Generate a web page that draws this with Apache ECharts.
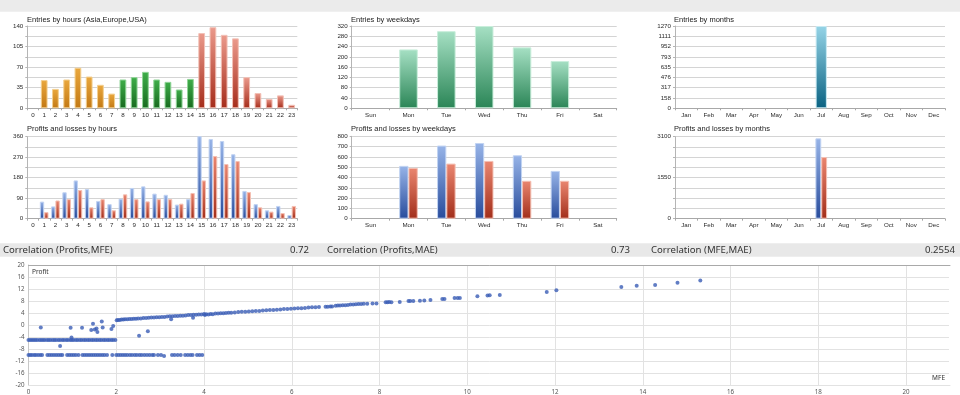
<!DOCTYPE html>
<html><head><meta charset="utf-8">
<script src="https://cdn.jsdelivr.net/npm/echarts@6/dist/echarts.min.js"></script>
<style>html,body{margin:0;padding:0;background:#fff;}#c{width:960px;height:395px;}</style>
</head><body><div id="c"></div>
<script>
// ---------------- DATA ----------------
const hours = ['0','1','2','3','4','5','6','7','8','9','10','11','12','13','14','15','16','17','18','19','20','21','22','23'];
const hourEntries = [0,48,33,49,69,54,40,25,49,53,62,49,45,32,50,128,138,125,119,53,26,16,22,6];
const hourProfits = [0,75,54,116,168,130,78,64,88,135,142,110,105,62,86,363,350,341,283,122,64,37,56,16];
const hourLosses  = [0,29,80,86,126,50,86,37,107,86,76,86,86,66,113,168,275,240,253,117,50,31,25,56];

const weekdays = ['Sun','Mon','Tue','Wed','Thu','Fri','Sat'];
const weekdayEntries = [0,229,300,320,237,184,0];
const weekdayProfits = [0,513,710,735,616,464,0];
const weekdayLosses  = [0,493,535,561,368,368,0];

const months = ['Jan','Feb','Mar','Apr','May','Jun','Jul','Aug','Sep','Oct','Nov','Dec'];
const monthEntries = [0,0,0,0,0,0,1270,0,0,0,0,0];
const monthProfits = [0,0,0,0,0,0,3038,0,0,0,0,0];
const monthLosses  = [0,0,0,0,0,0,2330,0,0,0,0,0];

const chartTitles = ['Entries by hours (Asia,Europe,USA)','Profits and losses by hours',
  'Entries by weekdays','Profits and losses by weekdays','Entries by months','Profits and losses by months'];
const correlationNames = ['Correlation (Profits,MFE)','Correlation (Profits,MAE)','Correlation (MFE,MAE)'];
const correlationValues = ['0.72','0.73','0.2554'];

// scatter: [MFE, Profit]
const stopRowA = [[0.00,-5],[0.04,-5],[0.08,-5],[0.12,-5],[0.16,-5],[0.20,-5],[0.25,-5],[0.29,-5],[0.33,-5],[0.37,-5],
  [0.42,-5],[0.46,-5],[0.50,-5],[0.55,-5],[0.59,-5],[0.63,-5],[0.68,-5],[0.72,-5],[0.77,-5],[0.81,-5],[0.86,-5],[0.90,-5],
  [0.95,-5],[0.99,-5],[1.03,-5],[1.08,-5],[1.12,-5],[1.17,-5],[1.21,-5],[1.26,-5],[1.30,-5],[1.35,-5],[1.39,-5],[1.44,-5],
  [1.48,-5],[1.53,-5],[1.57,-5],[1.62,-5],[1.66,-5],[1.71,-5],[1.75,-5],[1.80,-5],[1.84,-5],[1.89,-5],[1.93,-5],[1.98,-5]];
const stopRowB = [[0.00,-10],[0.04,-10],[0.08,-10],[0.13,-10],[0.17,-10],[0.22,-10],[0.27,-10],[0.31,-10],
  [0.43,-10],[0.48,-10],[0.53,-10],[0.58,-10],[0.63,-10],[0.68,-10],[0.73,-10],[0.77,-10],
  [0.88,-10],[0.93,-10],[0.98,-10],[1.03,-10],[1.08,-10],[1.14,-10],
  [1.23,-10],[1.28,-10],[1.33,-10],[1.38,-10],[1.43,-10],[1.48,-10],[1.53,-10],[1.58,-10],[1.63,-10],[1.68,-10],[1.73,-10],[1.79,-10],
  [1.91,-10],[2.00,-10],[2.05,-10],[2.10,-10],[2.15,-10],[2.20,-10],[2.25,-10],[2.31,-10],[2.36,-10],[2.42,-10],[2.47,-10],
  [2.53,-10],[2.58,-10],[2.64,-10],[2.70,-10],[2.76,-10],[2.82,-10],[2.86,-10],[2.95,-10],[3.02,-10],[3.09,-10.3],
  [3.27,-10],[3.33,-10],[3.40,-10],[3.47,-10],[3.57,-10],[3.63,-10],[3.69,-10],[3.74,-10],[3.84,-10],[3.90,-10],[3.96,-10]];
const scatterOutliers = [[0.28,-0.8],[0.72,-7],[0.96,-0.9],[0.98,-4.2],[1.22,-0.9],[1.43,-1.7],[1.47,0.4],[1.51,-1.5],
  [1.55,-1.2],[1.57,-2.3],[1.67,1.2],[1.69,-0.8],[1.89,-1.3],[1.93,-0.3],[2.52,-3.6],[2.72,-2.1],[3.25,1.9],[3.75,2.4]];
const profitTrail = [[2.01,1.6],[2.04,1.7],[2.08,1.7],[2.12,1.8],[2.16,1.8],[2.20,1.9],[2.25,1.9],[2.30,2.0],[2.35,2.0],
  [2.40,2.1],[2.45,2.1],[2.50,2.2],[2.56,2.2],[2.62,2.3],[2.68,2.3],[2.74,2.4],[2.80,2.5],[2.86,2.5],[2.92,2.6],[2.98,2.6],
  [3.04,2.7],[3.10,2.7],[3.16,2.8],[3.22,2.9],[3.28,2.9],[3.34,3.0],[3.40,3.0],[3.46,3.1],[3.52,3.1],[3.58,3.2],[3.64,3.3],
  [3.70,3.3],[3.76,3.4],[3.82,3.4],[3.88,3.5],[3.94,3.5],[4.00,3.7],[4.02,3.3],[4.05,3.6],[4.10,3.5],[4.15,3.7],[4.20,3.6],
  [4.26,3.8],[4.32,3.8],[4.38,3.9],[4.44,3.9],[4.50,4.0],[4.56,4.1],[4.62,4.1],[4.70,4.2],[4.78,4.3],[4.86,4.4],[4.94,4.4],
  [5.02,4.5],[5.10,4.6],[5.18,4.7],[5.26,4.7],[5.34,4.8],[5.42,4.9],[5.50,5.0],[5.58,5.0],[5.66,5.1],[5.74,5.2],[5.82,5.3],
  [5.90,5.3],[5.98,5.4],[6.06,5.5],[6.14,5.6],[6.22,5.6],[6.30,5.7],[6.38,5.8],[6.46,5.9],[6.54,5.9],[6.62,6.0],
  [6.77,6.1],[6.82,6.1],[6.88,6.2],[6.92,6.2],[7.00,6.4],[7.05,6.5],[7.10,6.5],[7.16,6.6],[7.22,6.6],[7.28,6.7],[7.34,6.8],
  [7.40,6.8],[7.46,6.9],[7.52,7.0],[7.58,7.0],[7.64,7.1],[7.72,7.1],[7.84,7.2],[7.93,7.2],[8.14,7.6],[8.18,7.6],[8.22,7.7],
  [8.27,7.6],[8.46,7.7],[8.66,8.0],[8.70,8.0],[8.77,8.0],[8.92,8.1],[9.02,8.2],[9.16,8.3],[9.43,8.7],[9.48,8.7],[9.71,9.0],
  [9.78,9.0],[9.83,9.0],[10.23,9.6],[10.46,9.8],[10.51,9.9],[10.74,10.0],[11.81,11.0],[12.03,11.6],[13.51,12.7],[13.86,13.1],
  [14.28,13.3],[14.79,14.1],[15.31,14.8]];

// ---------------- STYLE ----------------
const LAB = 'Liberation Sans, Arial, sans-serif';
const SEG = 'Noto Sans, Open Sans, sans-serif';
function grad(top, bottom){ return new echarts.graphic.LinearGradient(0,0,0,1,[{offset:0,color:top},{offset:1,color:bottom}]); }
const PAL = {
  asia:   {c: grad('#eaa83e','#c27813'), b:'#f3cf8f'},
  europe: {c: grad('#3fae4a','#176a1f'), b:'#8fd497'},
  usa:    {c: grad('#eb9a8c','#a52c1a'), b:'#f2c0b6'},
  wgreen: {c: grad('#a6e0c4','#2a8556'), b:'#c9eedb'},
  cyan:   {c: grad('#95d4e7','#0a6282'), b:'#c8e9f2'},
  blue:   {c: grad('#97b4e8','#284c9c'), b:'#c1d3f2'},
  red:    {c: grad('#ea8670','#a22e1a'), b:'#f4bfb2'}
};
function items(arr, pal){ return arr.map(v => ({value:v, itemStyle:{color:pal.c, borderColor:pal.b, borderWidth: v ? 1 : 0}})); }
function sessionPal(i){ return i < 8 ? PAL.asia : (i < 15 ? PAL.europe : PAL.usa); }

const grids = [
  {left:27.3, top:26, width:270, height:82.3},
  {left:27.3, top:136.7, width:270, height:82},
  {left:351.7, top:26, width:265, height:82.3},
  {left:351.7, top:136.3, width:265, height:82.4},
  {left:675, top:26, width:270, height:82.3},
  {left:675, top:136.7, width:270, height:82},
  {left:28.5, top:265, width:921.5, height:120}
];

function catAxis(gi, data){
  return {type:'category', gridIndex:gi, data:data,
    axisLine:{show:true, lineStyle:{color:'#a8a8a8'}},
    axisTick:{show:true, length:2, lineStyle:{color:'#a8a8a8'}},
    axisLabel:{interval:0, fontSize:6.2, fontFamily:LAB, color:'#2a2a2a', margin:4}};
}
function valAxis(gi, max, interval, labelStep, fmt){
  return {type:'value', gridIndex:gi, min:0, max:max, interval:interval,
    axisLine:{show:true, lineStyle:{color:'#b5b5b5'}},
    axisTick:{show:true, length:2, lineStyle:{color:'#b5b5b5'}},
    splitLine:{show:true, lineStyle:{color:'#d4d4d4'}},
    axisLabel:{fontSize:6.2, fontFamily:LAB, color:'#2a2a2a', margin:4,
      formatter: v => { if (Math.abs(v/labelStep - Math.round(v/labelStep)) > 1e-6) return ''; return fmt ? fmt(v) : String(v); }}};
}

const graphics = [
  {type:'rect', shape:{x:0,y:0,width:960,height:11.7}, style:{fill:'#ebebeb'}, silent:true},
  {type:'rect', shape:{x:0,y:243.3,width:960,height:13.4}, style:{fill:'#e8e8e8'}, silent:true}
];
const titlePos = [[27,20],[27,129.3],[351,20],[351,129.3],[674,20],[674,129.3]];
chartTitles.forEach((t,i) => graphics.push({type:'text', x:titlePos[i][0], y:titlePos[i][1],
  style:{text:t, font:'7.5px '+LAB, fill:'#222', align:'left', verticalAlign:'middle', textAlign:'left', textVerticalAlign:'middle'}, silent:true}));
const corrPos = [[3,309],[327,630],[651,955]];
correlationNames.forEach((t,i) => {
  graphics.push({type:'text', x:corrPos[i][0], y:250, style:{text:t, font:'9.6px '+SEG, fill:'#333', align:'left', verticalAlign:'middle', textAlign:'left', textVerticalAlign:'middle'}, silent:true});
  graphics.push({type:'text', x:corrPos[i][1], y:250, style:{text:correlationValues[i], font:'9.6px '+SEG, fill:'#333', align:'right', verticalAlign:'middle', textAlign:'right', textVerticalAlign:'middle'}, silent:true});
});
graphics.push({type:'text', x:32, y:272, style:{text:'Profit', font:'6.5px '+SEG, fill:'#333', align:'left', verticalAlign:'middle', textAlign:'left', textVerticalAlign:'middle'}, silent:true});
graphics.push({type:'text', x:945, y:378, style:{text:'MFE', font:'6.5px '+SEG, fill:'#333', align:'right', verticalAlign:'middle', textAlign:'right', textVerticalAlign:'middle'}, silent:true});

const option = {
  animation:false,
  backgroundColor:'#ffffff',
  graphic: graphics,
  grid: grids,
  xAxis: [
    catAxis(0, hours), catAxis(1, hours), catAxis(2, weekdays), catAxis(3, weekdays), catAxis(4, months), catAxis(5, months),
    {type:'value', gridIndex:6, min:0, max:21, interval:2,
      axisLine:{show:true, onZero:false, lineStyle:{color:'#e2e2e2'}}, axisTick:{show:false},
      splitLine:{show:true, lineStyle:{color:'#e2e2e2'}},
      axisLabel:{fontSize:6.2, fontFamily:SEG, color:'#555', margin:4, showMaxLabel:false}},
    {type:'value', gridIndex:6, position:'top', min:0, max:21,
      axisLine:{show:true, onZero:false, lineStyle:{color:'#a9a9a9'}}, axisTick:{show:false}, axisLabel:{show:false}, splitLine:{show:false}}
  ],
  yAxis: [
    valAxis(0, 140, 17.5, 35),
    valAxis(1, 360, 45, 90),
    valAxis(2, 320, 40, 40),
    valAxis(3, 800, 100, 100),
    valAxis(4, 1270, 158.75, 158.75, v => String(Math.floor(v))),
    valAxis(5, 3100, 387.5, 1550),
    {type:'value', gridIndex:6, min:-20, max:20, interval:4,
      axisLine:{show:true, onZero:false, lineStyle:{color:'#c8c8c8'}}, axisTick:{show:false},
      splitLine:{show:true, lineStyle:{color:'#e2e2e2'}},
      axisLabel:{fontSize:6.2, fontFamily:SEG, color:'#555', margin:4}},
    {type:'value', gridIndex:6, position:'right', min:-20, max:20,
      axisLine:{show:true, onZero:false, lineStyle:{color:'#ffffff', width:2}}, axisTick:{show:false}, axisLabel:{show:false}, splitLine:{show:false}}
  ],
  series: [
    {type:'bar', xAxisIndex:0, yAxisIndex:0, barWidth:'60%',
      data: hourEntries.map((v,i) => { const p = sessionPal(i); return {value:v, itemStyle:{color:p.c, borderColor:p.b, borderWidth: v?1:0}}; })},
    {type:'bar', xAxisIndex:1, yAxisIndex:1, barGap:'0%', barCategoryGap:'23%', data: items(hourProfits, PAL.blue)},
    {type:'bar', xAxisIndex:1, yAxisIndex:1, barGap:'0%', barCategoryGap:'23%', data: items(hourLosses, PAL.red)},
    {type:'bar', xAxisIndex:2, yAxisIndex:2, barWidth:'49%', data: items(weekdayEntries, PAL.wgreen)},
    {type:'bar', xAxisIndex:3, yAxisIndex:3, barGap:'0%', barCategoryGap:'51%', data: items(weekdayProfits, PAL.blue)},
    {type:'bar', xAxisIndex:3, yAxisIndex:3, barGap:'0%', barCategoryGap:'51%', data: items(weekdayLosses, PAL.red)},
    {type:'bar', xAxisIndex:4, yAxisIndex:4, barWidth:'50%', data: items(monthEntries, PAL.cyan)},
    {type:'bar', xAxisIndex:5, yAxisIndex:5, barGap:'0%', barCategoryGap:'48%', data: items(monthProfits, PAL.blue)},
    {type:'bar', xAxisIndex:5, yAxisIndex:5, barGap:'0%', barCategoryGap:'48%', data: items(monthLosses, PAL.red)},
    {type:'scatter', xAxisIndex:6, yAxisIndex:6, symbolSize:4, itemStyle:{color:'#3a5db5'},
      data: [].concat(stopRowA, stopRowB, scatterOutliers, profitTrail)}
  ]
};
const chart = echarts.init(document.getElementById('c'), null, {renderer:'canvas'});
chart.setOption(option);
</script></body></html>
